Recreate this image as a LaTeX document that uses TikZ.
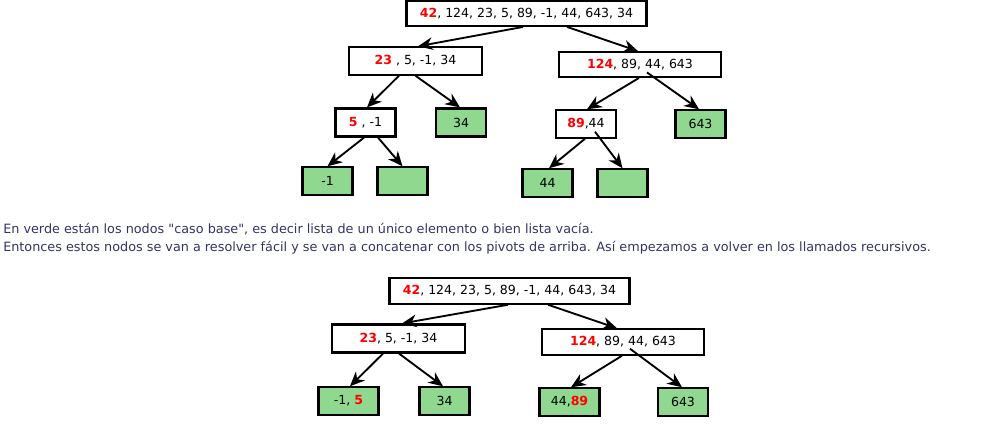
\documentclass[tikz,border=0pt]{standalone}
\usepackage{fontspec}
\setmainfont{DejaVu Sans}[Ligatures=TeXOff]
\usetikzlibrary{arrows.meta}
\usepackage{xcolor}
\definecolor{casobase}{HTML}{90D890}
\definecolor{texto}{HTML}{333366}
\newcommand{\piv}[1]{\textcolor{red}{\textbf{#1}}}

\begin{document}
\begin{tikzpicture}[x=0.75pt,y=-0.75pt,
    lista/.style={draw,line width=1.6pt,fill=white,inner sep=0pt,font=\fontsize{9.4}{11}\selectfont},
    base/.style={lista,fill=casobase},
    flecha/.style={-{Stealth[length=11pt,width=9.5pt,inset=3.5pt]},line width=1.4pt},
    nota/.style={anchor=west,inner sep=0pt,text=texto,font=\fontsize{9.6}{11}\selectfont}]
        \useasboundingbox (0,0) rectangle (999,426);
        % first tree
        \node[lista,minimum width=180pt,minimum height=18.5pt] (raiz) at (526.5,13.5) {\piv{42}, 124, 23, 5, 89, -1, 44, 643, 34};
        \node[lista,minimum width=100pt,minimum height=20.5pt] (izq) at (415.5,61) {\piv{23} , 5, -1, 34};
        \node[lista,minimum width=122pt,minimum height=18.5pt] (der) at (640,64.5) {\piv{124}, 89, 44, 643};
        \node[lista,minimum width=45pt,minimum height=21pt] (izqizq) at (365.5,122.5) {\piv{5} , -1};
        \node[base,minimum width=37.5pt,minimum height=21pt] (izqder) at (461,122.5) {34};
        \node[lista,minimum width=44.5pt,minimum height=20.5pt] (derizq) at (586,124) {\piv{89},44};
        \node[base,minimum width=37.5pt,minimum height=20.5pt] (derder) at (700.5,124) {643};
        \node[base,minimum width=37.5pt,minimum height=20.5pt] (hojaA) at (327.5,181) {-1};
        \node[base,minimum width=37.5pt,minimum height=20.5pt] (hojaB) at (402.5,181) {};
        \node[base,minimum width=37.5pt,minimum height=20.5pt] (hojaC) at (547.5,183) {44};
        \node[base,minimum width=37.5pt,minimum height=20.5pt] (hojaD) at (622.5,183) {};
        % arrows
        \draw[flecha] ([xshift=-2.6pt]raiz.south) -- ([xshift=1.9pt]izq.north);
        \draw[flecha] ([xshift=30.4pt]raiz.south) -- ([xshift=-1.5pt]der.north);
        \draw[flecha] ([xshift=-12.4pt]izq.south) -- ([xshift=1.1pt]izqizq.north);
        \draw[flecha] (izq.south) -- ([xshift=-0.75pt]izqder.north);
        \draw[flecha] ([xshift=-0.75pt]der.south) -- ([xshift=0.75pt]derizq.north);
        \draw[flecha] ([xshift=5.25pt,yshift=4.1pt]der.south) -- ([xshift=-1.1pt]derder.north);
        \draw[flecha] ([xshift=-1.1pt]izqizq.south) -- (hojaA.north);
        \draw[flecha] ([xshift=9.4pt]izqizq.south) -- (hojaB.north);
        \draw[flecha] ([xshift=-0.75pt]derizq.south) -- ([xshift=1.1pt]hojaC.north);
        \draw[flecha] ([xshift=6.75pt,yshift=5.25pt]derizq.south) -- (hojaD.north);
        % text
        \node[nota] (nota1) at (3,229) {En verde están los nodos "caso base", es decir lista de un único elemento o bien lista vacía.};
        \node[nota] (nota2) at (3,248) {Entonces estos nodos se van a resolver fácil y se van a concatenar con los pivots de arriba. Así empezamos a volver en los llamados recursivos.};
        % second tree
        \node[lista,minimum width=180pt,minimum height=19pt] (raizB) at (509.5,291) {\piv{42}, 124, 23, 5, 89, -1, 44, 643, 34};
        \node[lista,minimum width=100pt,minimum height=21pt] (izqB) at (398.5,338.5) {\piv{23}, 5, -1, 34};
        \node[lista,minimum width=122pt,minimum height=19pt] (derB) at (623,342) {\piv{124}, 89, 44, 643};
        \node[base,minimum width=45pt,minimum height=20.5pt] (izqizqB) at (348.5,401) {-1, \piv{5}};
        \node[base,minimum width=37.5pt,minimum height=20.5pt] (izqderB) at (444.5,401) {34};
        \node[base,minimum width=45pt,minimum height=20.5pt] (derizqB) at (569.5,402) {44,\piv{89}};
        \node[base,minimum width=37.5pt,minimum height=20.5pt] (derderB) at (683,402) {643};
        % arrows
        \draw[flecha] ([xshift=-1.1pt]raizB.south) -- ([xshift=2.6pt]izqB.north);
        \draw[flecha] ([xshift=28.9pt]raizB.south) -- ([xshift=-4.5pt]derB.north);
        \draw[flecha] ([xshift=-11.6pt]izqB.south) -- ([xshift=1.1pt]izqizqB.north);
        \draw[flecha] ([xshift=0.4pt]izqB.south) -- ([xshift=-1.1pt]izqderB.north);
        \draw[flecha] ([xshift=-0.75pt]derB.south) -- ([xshift=1.1pt]derizqB.north);
        \draw[flecha] ([xshift=5.25pt,yshift=5.25pt]derB.south) -- ([xshift=-0.75pt]derderB.north);
    \end{tikzpicture}
\end{document}
